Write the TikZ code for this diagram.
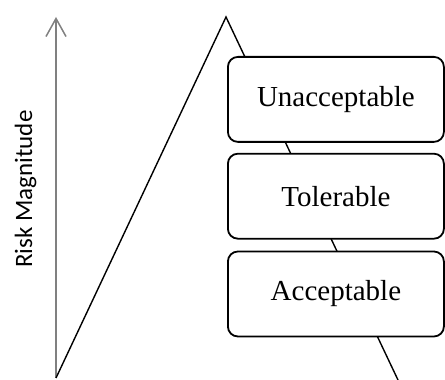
\documentclass[tikz,border=0pt]{standalone}
\usepackage{fontspec}
\setmainfont{Liberation Serif}
\newfontfamily\axisfont{Carlito}
\usetikzlibrary{positioning,arrows.meta}
\definecolor{axisgray}{RGB}{128,128,128}

\begin{document}
\begin{tikzpicture}[x=1pt,y=1pt,
    level/.style={draw, thick, line width=1.8pt, fill=white, rounded corners=10pt,
        minimum width=216pt, minimum height=85pt, inner sep=0pt,
        font=\fontsize{29}{34}\selectfont}]
        \useasboundingbox (0,0) rectangle (445,380);

        % Risk axis
        \coordinate (axisbottom) at (56,2);
        \coordinate (axistop) at (56,363);
        \draw[axisgray, line width=1.5pt, -{Straight Barb[length=18pt,width=20pt]}] (axisbottom) -- (axistop);
        \node[rotate=90, anchor=base, font=\axisfont\fontsize{25}{30}\selectfont] (axislabel) at (32,191) {Risk Magnitude};

        % Triangle
        \coordinate (peak) at (226,363);
        \coordinate (rightfoot) at (398,0);
        \draw[line width=1.4pt] (axisbottom) -- (peak) -- (rightfoot);

        % Levels
        \node[level, anchor=north west] (unacceptable) at (227,324) {Unacceptable};
        \node[level, below=10pt of unacceptable] (tolerable) {Tolerable};
        \node[level, below=11pt of tolerable] (acceptable) {Acceptable};

    \end{tikzpicture}
\end{document}
